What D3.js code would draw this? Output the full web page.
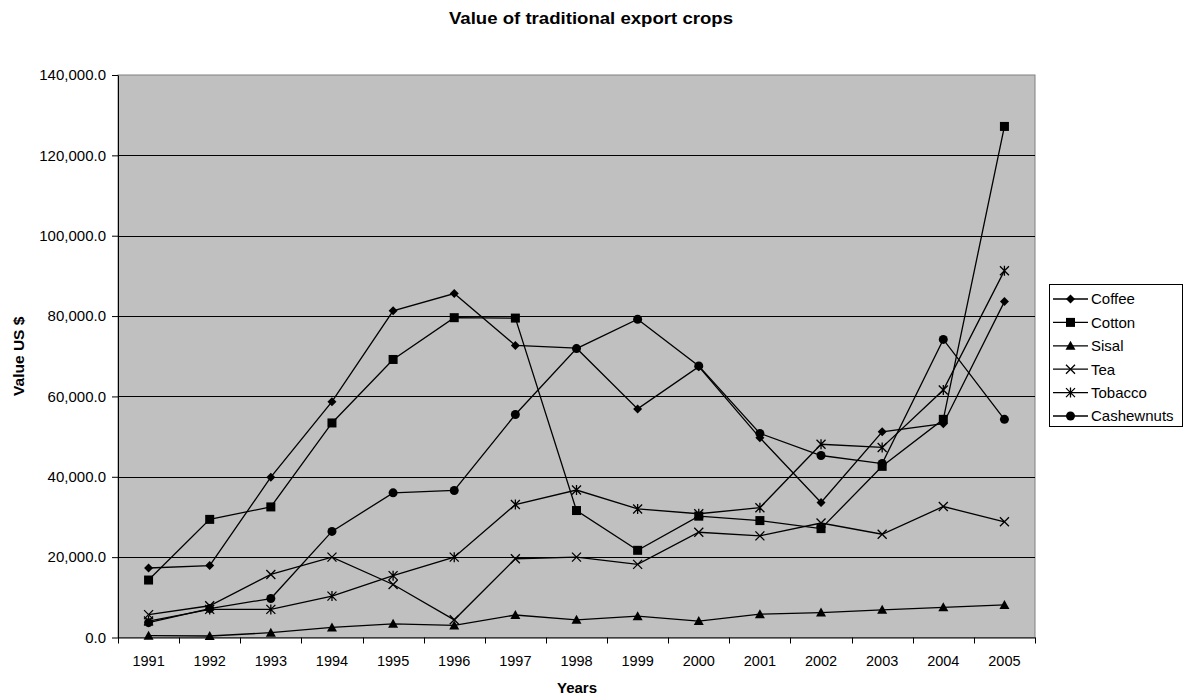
<!DOCTYPE html>
<html>
<head>
<meta charset="utf-8">
<script src="https://cdn.jsdelivr.net/npm/d3@7"></script>
<style>
  body { margin: 0; background: #fff; }
  svg { font-family: "Liberation Sans", Arial, sans-serif; }
</style>
</head>
<body>
<div id="chart"></div>
<script>
var years = ["1991", "1992", "1993", "1994", "1995", "1996", "1997", "1998", "1999", "2000", "2001", "2002", "2003", "2004", "2005"];
var seriesNames = ["Coffee", "Cotton", "Sisal", "Tea", "Tobacco", "Cashewnuts"];
var coffee = [17300, 17900, 39900, 58700, 81300, 85600, 72700, 72000, 56900, 67400, 49700, 33600, 51200, 53200, 83600];
var cotton = [14300, 29400, 32500, 53400, 69200, 79600, 79500, 31600, 21700, 30200, 29100, 27100, 42600, 54300, 127200];
var sisal = [450, 370, 1200, 2500, 3400, 3000, 5600, 4400, 5300, 4100, 5800, 6200, 6900, 7500, 8100];
var tea = [5700, 7900, 15700, 20000, 13200, 4400, 19600, 20000, 18200, 26200, 25300, 28500, 25700, 32600, 28800];
var tobacco = [4100, 7000, 7000, 10300, 15400, 20000, 33100, 36700, 32000, 30800, 32300, 48100, 47300, 61600, 91300];
var cashewnuts = [3700, 7200, 9700, 26400, 36000, 36600, 55500, 71900, 79200, 67600, 50800, 45300, 43300, 74200, 54300];
var yTicks = [0, 20000, 40000, 60000, 80000, 100000, 120000, 140000];

var width = 1187;
var height = 700;
var plot = { left: 118, top: 75, right: 1035, bottom: 637.5 };

var svg = d3
  .select("div#chart")
  .append("svg")
  .attr("width", width)
  .attr("height", height);

var x = d3.scaleBand()
  .domain(years)
  .range([plot.left, plot.right]);

var y = d3.scaleLinear()
  .domain([0, 140000])
  .range([plot.bottom, plot.top]);

// plot background and border
svg.append("rect")
  .attr("x", plot.left)
  .attr("y", plot.top)
  .attr("width", plot.right - plot.left)
  .attr("height", plot.bottom - plot.top)
  .attr("fill", "#c0c0c0")
  .attr("stroke", "#808080")
  .attr("stroke-width", 1);

// gridlines
svg.append("g")
  .selectAll("line")
  .data(yTicks.slice(1, -1))
  .enter()
  .append("line")
  .attr("x1", plot.left)
  .attr("x2", plot.right)
  .attr("y1", function (d) { return Math.round(y(d)) + 0.5; })
  .attr("y2", function (d) { return Math.round(y(d)) + 0.5; })
  .attr("stroke", "#000")
  .attr("stroke-width", 1);

// y axis
var yAxis = svg.append("g")
  .attr("transform", "translate(" + plot.left + ",0)")
  .call(d3.axisLeft(y).tickValues(yTicks).tickFormat(d3.format(",.1f")).tickSizeInner(6).tickSizeOuter(0).tickPadding(6));
yAxis.selectAll("text").style("font-size", "15px").attr("fill", "#000");
yAxis.select(".domain").attr("stroke", "#000");

// x axis with ticks between categories
var xAxis = svg.append("g")
  .attr("transform", "translate(0," + plot.bottom + ")")
  .call(d3.axisBottom(x).tickSize(0));
xAxis.selectAll("text")
  .style("font-size", "14.5px")
  .attr("fill", "#000")
  .attr("y", 28.5)
  .attr("dy", 0);
xAxis.select(".domain").attr("stroke", "#000");
xAxis.selectAll(".between")
  .data(years.concat(["end"]))
  .enter()
  .append("line")
  .attr("class", "between")
  .attr("x1", function (d, i) { return Math.round(plot.left + i * x.step()) + 0.5; })
  .attr("x2", function (d, i) { return Math.round(plot.left + i * x.step()) + 0.5; })
  .attr("y1", 0)
  .attr("y2", 6)
  .attr("stroke", "#000");

// series
var allSeries = [coffee, cotton, sisal, tea, tobacco, cashewnuts];
var markerKinds = ["diamond", "square", "triangle", "x", "star", "circle"];

var drawMarker = function (g, kind, cx, cy) {
  if (kind === "diamond") {
    g.append("path").attr("d", "M" + cx + "," + (cy - 4.5) + "L" + (cx + 4.5) + "," + cy + "L" + cx + "," + (cy + 4.5) + "L" + (cx - 4.5) + "," + cy + "Z").attr("fill", "#000");
  } else if (kind === "square") {
    g.append("rect").attr("x", cx - 4.5).attr("y", cy - 4.5).attr("width", 9).attr("height", 9).attr("fill", "#000");
  } else if (kind === "triangle") {
    g.append("path").attr("d", "M" + cx + "," + (cy - 5) + "L" + (cx + 5) + "," + (cy + 4) + "L" + (cx - 5) + "," + (cy + 4) + "Z").attr("fill", "#000");
  } else if (kind === "x") {
    g.append("path").attr("d", "M" + (cx - 4.5) + "," + (cy - 4.5) + "L" + (cx + 4.5) + "," + (cy + 4.5) + "M" + (cx + 4.5) + "," + (cy - 4.5) + "L" + (cx - 4.5) + "," + (cy + 4.5)).attr("stroke", "#000").attr("stroke-width", 1.3);
  } else if (kind === "star") {
    g.append("path").attr("d", "M" + (cx - 4.5) + "," + (cy - 4.5) + "L" + (cx + 4.5) + "," + (cy + 4.5) + "M" + (cx + 4.5) + "," + (cy - 4.5) + "L" + (cx - 4.5) + "," + (cy + 4.5) + "M" + cx + "," + (cy - 5) + "L" + cx + "," + (cy + 5)).attr("stroke", "#000").attr("stroke-width", 1.3);
  } else {
    g.append("circle").attr("cx", cx).attr("cy", cy).attr("r", 4.5).attr("fill", "#000");
  }
};

var line = d3.line()
  .x(function (d, i) { return x(years[i]) + x.bandwidth() / 2; })
  .y(function (d) { return y(d); });

allSeries.forEach(function (values, s) {
  var g = svg.append("g").attr("class", "series");
  g.append("path")
    .attr("d", line(values))
    .attr("fill", "none")
    .attr("stroke", "#000")
    .attr("stroke-width", 1.3);
  values.forEach(function (v, i) {
    drawMarker(g, markerKinds[s], x(years[i]) + x.bandwidth() / 2, y(v));
  });
});

// legend
var legend = svg.append("g");
legend.append("rect")
  .attr("x", 1049.5)
  .attr("y", 284.5)
  .attr("width", 133)
  .attr("height", 142)
  .attr("fill", "#fff")
  .attr("stroke", "#000");
seriesNames.forEach(function (name, i) {
  var ly = 299 + i * 23.4;
  legend.append("line")
    .attr("x1", 1053).attr("x2", 1088)
    .attr("y1", ly).attr("y2", ly)
    .attr("stroke", "#000").attr("stroke-width", 1.3);
  drawMarker(legend, markerKinds[i], 1070.5, ly);
  legend.append("text")
    .attr("x", 1091)
    .attr("y", ly)
    .attr("dy", "0.36em")
    .style("font-size", "15px")
    .text(name);
});

// titles
svg.append("text")
  .attr("x", 591)
  .attr("y", 24)
  .attr("text-anchor", "middle")
  .attr("textLength", 284)
  .attr("lengthAdjust", "spacingAndGlyphs")
  .style("font-size", "17px")
  .style("font-weight", "bold")
  .text("Value of traditional export crops");

svg.append("text")
  .attr("x", 577)
  .attr("y", 693)
  .attr("text-anchor", "middle")
  .style("font-size", "15px")
  .style("font-weight", "bold")
  .text("Years");

svg.append("text")
  .attr("transform", "translate(24," + ((plot.top + plot.bottom) / 2) + ") rotate(-90)")
  .attr("text-anchor", "middle")
  .style("font-size", "15.5px")
  .style("font-weight", "bold")
  .text("Value US $");
</script>
</body>
</html>
